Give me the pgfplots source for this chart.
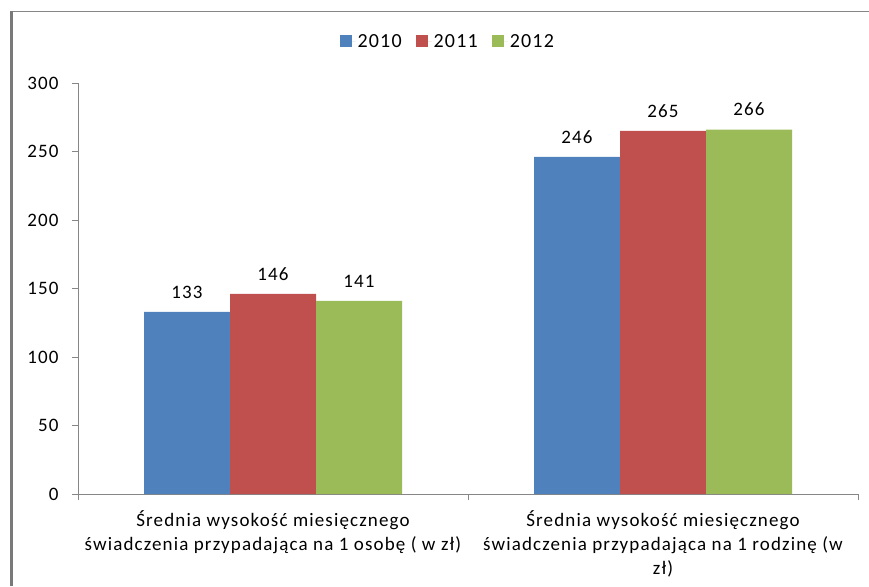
\documentclass[border=0pt]{standalone}
\usepackage{pgfplots}
\pgfplotsset{compat=1.18}
\usepackage{fontspec}
\setmainfont{Carlito}[LetterSpace=6]
\definecolor{c1}{HTML}{4F81BD}
\definecolor{c2}{HTML}{C0504D}
\definecolor{c3}{HTML}{9BBB59}
\definecolor{axgray}{HTML}{868686}
\begin{document}
\begin{tikzpicture}[x=1pt,y=1pt]
\path[use as bounding box] (-78,-92) rectangle (791,494);
\draw[color=axgray, line width=1.2pt] (-66,482.5) -- (791,482.5);
\draw[color=axgray!90!black, line width=3pt] (-66.5,-92) -- (-66.5,483);
\begin{axis}[
  at={(0pt,0pt)}, anchor=south west,
  scale only axis, width=780pt, height=411pt,
  xmin=-0.5, xmax=1.5, ymin=0, ymax=300,
  ytick={0,50,...,300},
  xtick={-0.5,0.5,1.5},
  x tick label as interval,
  xticklabels={{Średnia wysokość miesięcznego\\świadczenia przypadająca na 1 osobę ( w zł)},{Średnia wysokość miesięcznego\\świadczenia przypadająca na 1 rodzinę (w\\zł)}},
  axis x line=bottom, axis y line=left,
  axis line style={-, draw=axgray},
  tick style={draw=axgray, thin},
  tick align=outside, major tick length=6pt,
  ybar=0pt, bar width=86pt,
  every axis plot/.append style={draw=none},
  nodes near coords,
  nodes near coords style={font=\fontsize{19}{19}\selectfont, black, yshift=10pt},
  yticklabel style={font=\fontsize{19}{19}\selectfont, black, xshift=-10pt},
  xticklabel style={font=\fontsize{19}{24}\selectfont, black, align=center, yshift=-7pt},
  /pgf/number format/assume math mode=true,
  legend style={at={(0.474,1.10)}, anchor=center, draw=none, legend columns=3,
    font=\fontsize{20}{20}\selectfont,
    /tikz/every even column/.append style={column sep=12pt}},
  legend image code/.code={\fill[#1,draw=none] (0pt,-5pt) rectangle (12pt,7pt); \path (0pt,0pt) -- (16pt,0pt);},
]
\addplot[fill=c1] coordinates {(0,133) (1,246)};
\addplot[fill=c2] coordinates {(0,146) (1,265)};
\addplot[fill=c3] coordinates {(0,141) (1,266)};
\legend{2010,2011,2012}
\end{axis}
\end{tikzpicture}
\end{document}
